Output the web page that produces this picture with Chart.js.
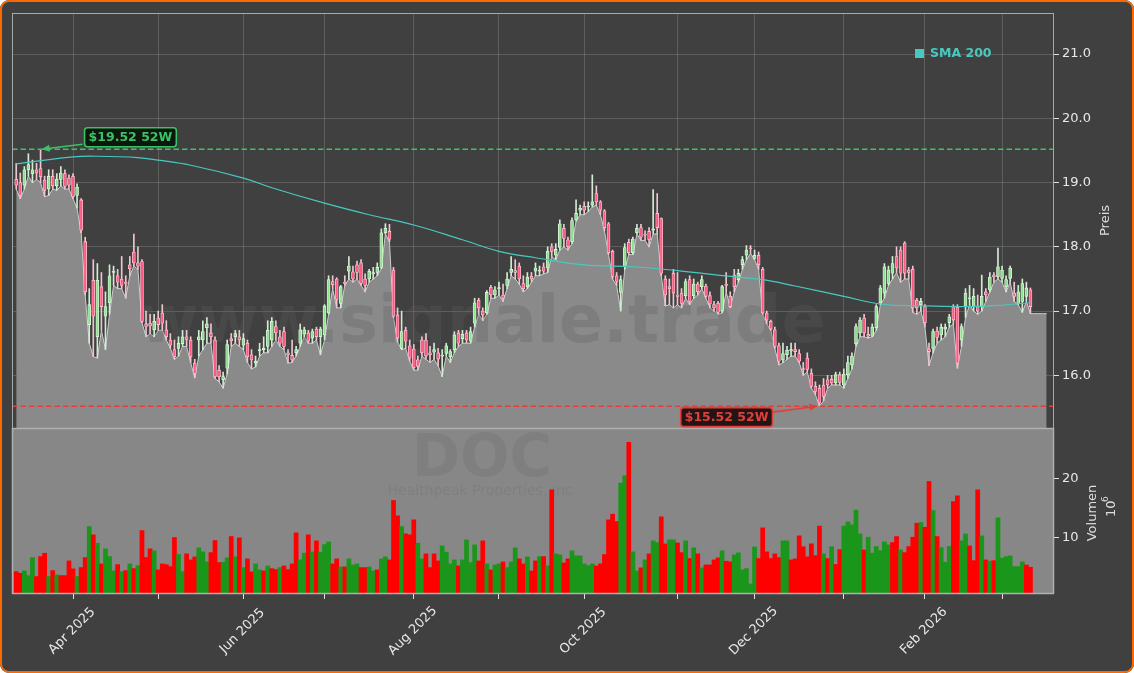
<!DOCTYPE html>
<html>
<head>
<meta charset="utf-8">
<script src="https://cdn.jsdelivr.net/npm/chart.js@4.4.1/dist/chart.umd.min.js"></script>
<style>
  html, body { margin:0; padding:0; background:#ffffff; }
  #wrap { position:relative; width:1134px; height:673px; background:#404040; border-radius:9px; overflow:hidden; }
  #frame { position:absolute; left:0; top:0; width:1134px; height:673px; box-sizing:border-box; border:2px solid #ff6a00; border-radius:9px; pointer-events:none; }
  canvas { position:absolute; left:0; top:0; }
</style>
</head>
<body>
<div id="wrap"><canvas id="chart" width="1134" height="673"></canvas><div id="frame"></div></div>
<script>
// daily candles, trading day index 0 = 12 Mar 2025
var open = [19.05,19.0,18.96,19.2,19.14,19.2,19.22,19.04,18.9,19.1,
  18.95,19.05,19.14,19.07,19.1,18.8,18.73,18.08,16.79,17.48,
  16.6,17.38,16.92,17.13,17.6,17.55,17.5,17.45,17.72,17.92,
  17.75,17.77,16.8,16.81,16.71,16.89,16.97,16.71,16.55,16.4,
  16.42,16.49,16.6,16.55,16.19,16.55,16.55,16.74,16.66,16.55,
  16.08,15.93,16.11,16.57,16.6,16.6,16.47,16.5,16.32,16.19,
  16.38,16.4,16.45,16.55,16.76,16.6,16.68,16.35,16.31,16.35,
  16.5,16.64,16.66,16.58,16.72,16.6,16.63,16.97,17.46,17.5,
  17.12,17.45,17.62,17.61,17.72,17.75,17.5,17.5,17.58,17.6,
  17.68,18.22,18.24,17.64,16.94,16.42,16.7,16.46,16.41,16.24,
  16.55,16.55,16.35,16.36,16.35,16.3,16.34,16.29,16.4,16.66,
  16.57,16.66,16.53,16.81,17.17,17.0,16.97,17.37,17.25,17.35,
  17.25,17.4,17.6,17.63,17.7,17.43,17.38,17.54,17.62,17.62,
  17.69,17.67,18.0,17.87,17.99,18.29,18.11,18.08,18.42,18.57,
  18.63,18.62,18.65,18.83,18.70,18.56,18.36,17.93,17.55,17.29,
  17.69,18.07,17.91,18.22,18.30,18.19,18.24,18.26,18.52,18.44,
  17.5,17.38,17.59,17.25,17.28,17.24,17.49,17.24,17.42,17.38,
  17.39,17.24,17.10,17.12,17.0,17.41,17.23,17.56,17.49,17.72,
  17.87,17.98,17.82,17.87,17.65,16.97,16.84,16.71,16.46,16.24,
  16.32,16.38,16.40,16.34,16.1,16.27,16.03,15.83,15.80,15.85,
  15.93,15.94,15.88,16.01,15.85,16.01,16.16,16.49,16.66,16.89,
  16.64,16.61,16.74,17.13,17.28,17.43,17.59,17.85,17.95,18.06,
  17.64,17.65,17.17,17.10,17.07,16.41,16.42,16.69,16.63,16.72,
  16.82,17.07,17.06,16.55,17.07,17.19,17.07,17.07,17.07,17.30,
  17.33,17.56,17.53,17.51,17.38,17.51,17.28,17.12,17.15,17.23,
  17.33];
var high = [19.3,19.15,19.25,19.45,19.35,19.3,19.52,19.1,19.2,19.2,
  19.14,19.25,19.2,19.12,19.14,18.98,18.75,18.15,17.35,17.8,
  17.74,17.6,17.3,17.72,17.7,17.65,17.85,17.55,17.85,18.2,
  18.0,17.8,17.0,16.95,16.95,17.0,17.1,16.85,16.65,16.55,
  16.6,16.7,16.7,16.6,16.25,16.7,16.85,16.9,16.8,16.6,
  16.15,16.05,16.55,16.65,16.7,16.7,16.65,16.55,16.4,16.3,
  16.5,16.6,16.85,16.9,16.85,16.7,16.75,16.4,16.55,16.45,
  16.8,16.75,16.7,16.72,16.75,16.75,17.1,17.55,17.55,17.52,
  17.4,17.55,17.85,17.7,17.78,17.8,17.58,17.65,17.68,17.75,
  18.28,18.36,18.35,17.68,17.05,17.0,16.75,16.55,16.48,16.3,
  16.6,16.65,16.45,16.5,16.42,16.4,16.5,16.4,16.68,16.7,
  16.7,16.7,16.75,17.2,17.2,17.05,17.32,17.4,17.38,17.45,
  17.42,17.6,17.85,17.8,17.75,17.55,17.6,17.6,17.75,17.7,
  17.75,18.0,18.05,18.05,18.42,18.35,18.15,18.45,18.73,18.65,
  18.7,18.7,19.12,18.95,18.72,18.58,18.38,17.95,17.6,17.55,
  18.05,18.12,18.15,18.35,18.35,18.25,18.3,18.89,18.83,18.45,
  17.55,17.5,17.65,17.6,17.35,17.5,17.55,17.5,17.45,17.55,
  17.42,17.3,17.15,17.15,17.4,17.6,17.3,17.65,17.65,17.85,
  18.02,18.02,17.95,17.92,17.68,17.0,16.86,16.75,16.5,16.5,
  16.45,16.5,16.5,16.4,16.2,16.35,16.1,15.9,15.85,15.95,
  16.0,16.0,16.05,16.05,16.1,16.3,16.35,16.8,16.9,16.95,
  16.75,16.8,17.1,17.4,17.74,17.7,17.85,18.0,18.0,18.08,
  17.68,17.7,17.2,17.2,17.1,16.5,16.72,16.75,16.8,16.8,
  16.95,17.1,17.1,16.8,17.35,17.4,17.35,17.25,17.56,17.35,
  17.6,17.6,17.98,17.7,17.55,17.7,17.45,17.4,17.5,17.45,
  17.36];
var low = [18.9,18.75,18.9,19.1,19.0,19.05,19.0,18.78,18.8,18.9,
  18.88,18.95,18.9,18.9,18.75,18.6,18.22,17.25,16.5,16.29,
  16.27,16.7,16.4,16.95,17.4,17.35,17.35,17.2,17.55,17.7,
  17.65,16.82,16.6,16.65,16.6,16.7,16.7,16.55,16.42,16.25,
  16.3,16.45,16.45,16.2,15.96,16.3,16.4,16.5,16.5,15.95,
  15.9,15.8,16.02,16.45,16.5,16.45,16.4,16.2,16.1,16.13,
  16.3,16.35,16.35,16.45,16.55,16.45,16.4,16.19,16.2,16.3,
  16.45,16.6,16.5,16.5,16.55,16.32,16.55,16.95,17.35,17.05,
  17.05,17.4,17.5,17.45,17.5,17.4,17.3,17.45,17.5,17.55,
  17.66,18.2,18.08,16.9,16.52,16.4,16.42,16.22,16.08,16.08,
  16.3,16.25,16.2,16.25,16.15,15.98,16.3,16.2,16.35,16.45,
  16.5,16.5,16.5,16.75,16.95,16.85,16.95,17.2,17.2,17.25,
  17.15,17.35,17.55,17.5,17.42,17.3,17.35,17.45,17.55,17.55,
  17.58,17.6,17.85,17.8,17.95,18.0,17.95,18.05,18.4,18.5,
  18.5,18.55,18.62,18.65,18.5,18.25,17.88,17.5,17.4,17.0,
  17.65,17.88,17.88,18.2,18.1,18.1,18.0,18.2,18.2,17.55,
  17.08,17.1,17.05,17.1,17.05,17.2,17.1,17.2,17.25,17.35,
  17.2,17.05,17.0,16.95,16.97,17.3,17.05,17.3,17.45,17.65,
  17.8,17.9,17.8,17.65,16.95,16.8,16.7,16.42,16.16,16.2,
  16.25,16.3,16.3,16.2,16.0,16.05,15.8,15.7,15.52,15.6,
  15.8,15.85,15.85,15.85,15.8,15.95,16.1,16.45,16.6,16.6,
  16.58,16.6,16.7,17.1,17.2,17.4,17.5,17.6,17.45,17.5,
  17.5,16.98,16.95,17.0,16.75,16.15,16.35,16.5,16.55,16.6,
  16.75,16.8,16.11,16.45,16.9,17.1,17.0,16.95,17.0,17.15,
  17.3,17.45,17.5,17.45,17.3,17.45,17.15,17.1,16.98,17.15,
  16.96];
var close = [18.96,18.8,19.2,19.28,19.2,19.15,19.09,18.88,19.1,18.95,
  19.05,19.15,18.94,18.96,18.78,18.93,18.26,17.3,17.1,16.92,
  17.48,17.07,17.07,17.55,17.62,17.45,17.4,17.43,17.66,17.75,
  17.7,16.84,16.76,16.77,16.84,16.79,16.81,16.6,16.47,16.29,
  16.5,16.6,16.56,16.29,16.03,16.6,16.68,16.8,16.6,15.98,
  15.98,15.98,16.48,16.54,16.65,16.55,16.57,16.29,16.24,16.22,
  16.4,16.42,16.7,16.84,16.66,16.5,16.45,16.32,16.24,16.4,
  16.71,16.71,16.53,16.68,16.6,16.72,17.08,17.49,17.41,17.18,
  17.38,17.43,17.7,17.5,17.6,17.43,17.4,17.62,17.6,17.68,
  18.22,18.29,18.12,16.92,16.58,16.68,16.53,16.27,16.12,16.14,
  16.35,16.3,16.32,16.4,16.25,16.3,16.46,16.37,16.63,16.5,
  16.64,16.55,16.68,17.13,17.05,16.94,17.29,17.25,17.33,17.36,
  17.2,17.5,17.65,17.6,17.5,17.35,17.53,17.5,17.67,17.62,
  17.62,17.93,17.93,17.96,18.36,18.13,18.0,18.41,18.52,18.6,
  18.57,18.63,18.7,18.70,18.57,18.30,17.91,17.54,17.46,17.49,
  17.99,17.91,18.12,18.29,18.15,18.18,18.11,18.28,18.3,17.59,
  17.25,17.35,17.28,17.23,17.12,17.46,17.15,17.42,17.30,17.49,
  17.23,17.11,17.05,16.98,17.38,17.4,17.07,17.38,17.59,17.8,
  17.95,17.97,17.87,17.72,16.97,16.86,16.72,16.45,16.22,16.34,
  16.39,16.40,16.37,16.22,16.09,16.09,15.83,15.75,15.57,15.67,
  15.85,15.88,16.01,15.89,16.02,16.20,16.30,16.76,16.86,16.66,
  16.61,16.75,17.07,17.36,17.69,17.64,17.74,17.67,17.59,17.59,
  17.60,17.05,17.05,17.15,16.82,16.37,16.68,16.59,16.75,16.75,
  16.91,16.86,16.19,16.76,17.28,17.19,17.23,17.0,17.23,17.25,
  17.53,17.53,17.69,17.64,17.49,17.67,17.23,17.30,17.43,17.36,
  17.07];

// volume in millions, and its colour (1 = green, 0 = red) as shown
var volume = [4.29,4.01,4.41,3.62,6.67,3.45,6.84,7.40,3.45,4.46,
  3.73,3.62,3.62,6.10,4.75,3.45,4.97,6.67,11.92,10.51,
  9.10,5.59,8.14,6.84,4.41,5.48,4.29,4.46,5.59,4.80,
  5.31,11.24,6.67,8.14,7.80,4.58,5.59,5.48,5.14,10.06,
  7.18,4.29,7.29,6.27,6.78,8.31,7.63,5.93,7.51,9.55,
  5.82,5.88,6.61,10.23,6.78,10.0,4.97,6.44,4.24,5.59,
  4.58,4.41,5.25,4.80,4.63,4.97,5.25,4.63,5.59,10.85,
  6.27,7.40,10.51,7.63,9.49,7.57,8.87,9.32,5.59,6.44,
  5.08,5.08,6.44,5.42,5.59,4.97,4.97,5.08,4.41,4.58,
  6.44,6.78,6.27,16.33,13.73,11.92,10.68,10.51,13.05,9.10,
  6.44,7.29,4.97,7.29,6.10,8.64,7.57,5.59,6.27,5.25,
  6.27,9.66,5.82,8.81,6.10,9.49,5.59,4.58,5.42,5.59,
  5.93,4.97,5.93,8.31,6.44,5.59,6.78,4.41,6.10,6.84,
  6.84,5.25,18.14,7.29,7.12,5.76,6.44,7.80,6.95,6.95,
  5.59,5.31,5.59,5.25,5.59,7.18,13.05,14.01,12.77,19.27,
  20.51,26.16,7.63,4.41,4.92,6.27,7.29,9.49,9.21,13.56,
  8.98,9.66,9.66,9.15,7.51,9.49,6.50,8.31,7.29,4.92,
  5.42,5.42,6.27,6.61,7.80,6.05,5.93,7.12,7.46,4.58,
  4.80,2.20,8.47,6.50,11.69,7.63,6.50,7.29,6.67,9.49,
  9.49,6.27,6.44,10.34,8.5,6.8,9.0,7.0,12.0,7.3,
  6.5,8.5,5.5,8.0,12.0,12.7,12.2,14.7,10.67,7.96,
  10.11,7.40,8.53,7.85,9.32,8.81,9.21,10.22,7.96,7.51,
  8.53,10.11,12.48,12.60,11.80,19.55,14.63,10.22,8.36,5.87,
  8.53,16.15,17.12,9.49,10.67,8.64,6.15,18.13,10.33,6.27,
  6.04,6.15,13.39,6.55,6.83,6.95,5.14,5.14,5.93,5.42,
  5.03];
var volUp = [0,0,1,1,1,0,0,0,1,0, 1,0,0,0,0,1,0,0,1,0,
  1,0,1,1,1,0,1,0,1,0, 1,0,0,0,1,0,0,0,0,0,
  1,1,0,0,0,1,1,1,0,0, 0,1,1,0,1,0,1,0,0,1,
  1,0,1,0,0,1,0,0,0,0, 1,1,0,1,0,1,1,1,0,0,
  1,0,1,1,1,0,0,1,1,0, 1,1,0,0,0,1,0,0,0,1,
  1,0,0,0,0,1,1,1,1,0, 1,1,1,1,0,0,1,0,1,1,
  0,1,1,1,0,0,1,0,0,1, 0,1,0,1,1,0,0,1,1,1,
  1,1,1,0,0,0,0,0,0,1, 1,0,1,1,0,1,0,1,1,0,
  0,1,1,0,0,1,0,1,0,1, 0,0,0,0,1,0,0,1,1,1,
  1,1,1,0,0,0,0,0,0,1, 1,0,0,0,0,0,0,0,0,1,
  0,1,0,0,1,1,1,1,1,0, 1,1,1,1,1,1,0,0,1,0,
  0,0,0,1,0,0,1,0,1,1, 1,0,0,1,1,0,0,0,1,0,
  1,0,1,1,1,1,1,1,1,0, 0];

// SMA 200 read at a few trading days
var smaIdx = [0,14,20,30,35,43,56,63,76,87,98,110,119,128,140,152,163,176,184,192,204,213,224,232,240,250];
var smaVal = [19.29,19.40,19.41,19.39,19.35,19.27,19.07,18.92,18.68,18.50,18.34,18.11,17.93,17.83,17.72,17.69,17.63,17.54,17.49,17.39,17.23,17.11,17.08,17.07,17.08,17.13];

// month ticks (first trading day of each month)
var monthIdx = [14,35,56,76,98,119,140,163,182,204,224,243];
var monthLabels = ['Apr 2025','','Jun 2025','','Aug 2025','','Oct 2025','','Dec 2025','','Feb 2026',''];
var priceTicks = [16,17,18,19,20,21];
var volTicks = [10,20];
var padDays = 4;

var FONT = 'DejaVu Sans';
var upBody = '#8fe08f', dnBody = '#ff5a84';
var upEdge = '#e2f7e2', dnEdge = '#ffc4d2';
var upWick = '#d3ead3', dnWick = '#ecc6cf';
var smaColor = '#48c9c0';
var hiColor = '#3cc266', loColor = '#e0403c';

var hi52 = Math.max.apply(null, high), lo52 = Math.min.apply(null, low);
var hiIdx = high.indexOf(hi52), loIdx = low.indexOf(lo52);

var area = low.map(function(v, i){ return {x:i, y:v}; });
for (var p = 1; p <= padDays; p++) area.push({x: low.length - 1 + p, y: low[low.length - 1]});

var wicks = [], bodies = [], bodyCol = [], bodyEdge = [], wickCol = [], vols = [], volCol = [];
for (var i = 0; i < close.length; i++) {
    var up = close[i] >= open[i];
    wicks.push({x:i, y:[low[i], high[i]]});
    bodies.push({x:i, y:[open[i], close[i]]});
    bodyCol.push(up ? upBody : dnBody);
    bodyEdge.push(up ? upEdge : dnEdge);
    wickCol.push(up ? upWick : dnWick);
    vols.push({x:i, y:volume[i]});
    volCol.push(volUp[i] ? '#1a961a' : '#ff0000');
}
var sma = smaIdx.map(function(v, k){ return {x:v, y:smaVal[k]}; });

function labelBox(ctx, text, x, y, color, bg) {
    ctx.font = 'bold 12.5px ' + FONT;
    var w = ctx.measureText(text).width + 8, h = 19;
    ctx.beginPath();
    ctx.roundRect(x, y - h/2, w, h, 3);
    ctx.fillStyle = bg; ctx.fill();
    ctx.lineWidth = 1.6; ctx.strokeStyle = color; ctx.stroke();
    ctx.fillStyle = color; ctx.textAlign = 'left'; ctx.textBaseline = 'middle';
    ctx.fillText(text, x + 4, y + 1);
    return w;
}
function arrow(ctx, x1, y1, x2, y2, color) {
    var a = Math.atan2(y2 - y1, x2 - x1);
    ctx.strokeStyle = color; ctx.fillStyle = color; ctx.lineWidth = 1.6;
    ctx.beginPath(); ctx.moveTo(x1, y1); ctx.lineTo(x2 - 6*Math.cos(a), y2 - 6*Math.sin(a)); ctx.stroke();
    ctx.beginPath(); ctx.moveTo(x2, y2);
    ctx.lineTo(x2 - 8*Math.cos(a) + 3.5*Math.sin(a), y2 - 8*Math.sin(a) - 3.5*Math.cos(a));
    ctx.lineTo(x2 - 8*Math.cos(a) - 3.5*Math.sin(a), y2 - 8*Math.sin(a) + 3.5*Math.cos(a));
    ctx.closePath(); ctx.fill();
}

var panels = {
    id: 'panels',
    beforeDatasetsDraw: function(chart) {
        var ctx = chart.ctx, ca = chart.chartArea, yv = chart.scales.yv;
        ctx.save();
        ctx.fillStyle = '#878787';
        ctx.fillRect(ca.left, yv.top, ca.right - ca.left, yv.bottom - yv.top);
        ctx.restore();
    },
    afterDatasetDraw: function(chart, args) {
        if (args.index !== 0) return;
        // watermark over the area, under the candles
        var ctx = chart.ctx, ca = chart.chartArea, yp = chart.scales.yp;
        ctx.save();
        ctx.beginPath(); ctx.rect(ca.left, ca.top, ca.right - ca.left, yp.bottom - ca.top); ctx.clip();
        ctx.fillStyle = 'rgba(92,92,92,0.28)';
        ctx.font = 'bold 65px ' + FONT;
        ctx.textAlign = 'center'; ctx.textBaseline = 'middle';
        ctx.fillText('www.signale.trade', 482, 325);
        ctx.restore();
    },
    afterDraw: function(chart) {
        var ctx = chart.ctx, ca = chart.chartArea;
        var x = chart.scales.x, yp = chart.scales.yp, yv = chart.scales.yv;
        ctx.save();
        // company watermark in volume panel
        ctx.fillStyle = 'rgba(70,70,70,0.12)';
        ctx.textAlign = 'center'; ctx.textBaseline = 'middle';
        ctx.font = 'bold 58px ' + FONT;
        ctx.fillText('DOC', 482, 461);
        ctx.font = '14px ' + FONT;
        ctx.fillText('Healthpeak Properties, Inc', 480, 491);

        // 52 week lines
        ctx.lineWidth = 1.5; ctx.setLineDash([5.5, 3]);
        [[hi52, hiColor], [lo52, loColor]].forEach(function(l){
            var py = yp.getPixelForValue(l[0]);
            ctx.strokeStyle = l[1];
            ctx.beginPath(); ctx.moveTo(ca.left, py); ctx.lineTo(ca.right, py); ctx.stroke();
        });
        ctx.setLineDash([]);

        // panel frames
        ctx.strokeStyle = '#a8a8a8'; ctx.lineWidth = 1;
        ctx.strokeRect(ca.left + 0.5, ca.top + 0.5, ca.right - ca.left - 1, yp.bottom - ca.top);
        ctx.strokeStyle = '#b0b0b0'; ctx.lineWidth = 1.5;
        ctx.strokeRect(ca.left + 0.5, yv.top + 0.5, ca.right - ca.left - 1, yv.bottom - yv.top - 1);

        // 52W labels with arrows
        var hx = x.getPixelForValue(hiIdx), hy = yp.getPixelForValue(hi52);
        labelBox(ctx, '$' + hi52.toFixed(2) + ' 52W', hx + 44, hy - 12, hiColor, 'rgba(8,20,10,0.92)');
        arrow(ctx, hx + 42, hy - 5, hx + 1, hy, hiColor);
        var lx = x.getPixelForValue(loIdx), ly = yp.getPixelForValue(lo52);
        ctx.font = 'bold 12.5px ' + FONT;
        var lw = ctx.measureText('$' + lo52.toFixed(2) + ' 52W').width + 8;
        labelBox(ctx, '$' + lo52.toFixed(2) + ' 52W', lx - 47 - lw, ly + 11, loColor, 'rgba(28,10,10,0.92)');
        arrow(ctx, lx - 47, ly + 6, lx - 2, ly, loColor);

        // legend
        ctx.fillStyle = smaColor;
        ctx.fillRect(915, 49, 9, 9);
        ctx.font = 'bold 12.5px ' + FONT; ctx.textAlign = 'left'; ctx.textBaseline = 'middle';
        ctx.fillText('SMA 200', 930, 54);

        // x labels, rotated and centred under the tick
        ctx.fillStyle = '#e8e8e8'; ctx.font = '13px ' + FONT; ctx.textAlign = 'center';
        monthIdx.forEach(function(m, k){
            if (!monthLabels[k]) return;
            ctx.save();
            ctx.translate(x.getPixelForValue(m) - 1, 631);
            ctx.rotate(-Math.PI / 4);
            ctx.fillText(monthLabels[k], 0, 0);
            ctx.restore();
        });

        // axis titles
        ctx.fillStyle = '#dedede';
        function vtext(t, px, py, f) {
            ctx.save(); ctx.translate(px, py); ctx.rotate(-Math.PI / 2);
            ctx.font = f; ctx.textAlign = 'center'; ctx.fillText(t, 0, 0); ctx.restore();
        }
        vtext('Preis', 1106, (ca.top + yp.bottom) / 2, '13px ' + FONT);
        vtext('Volumen', 1093, (yv.top + yv.bottom) / 2 + 2, '13px ' + FONT);
        ctx.save(); ctx.translate(1112, 507); ctx.rotate(-Math.PI / 2);
        ctx.textAlign = 'left';
        ctx.font = '13px ' + FONT; ctx.fillText('10', -10, 0);
        ctx.font = '9px ' + FONT; ctx.fillText('6', 5, -6);
        ctx.restore();
        ctx.restore();
    }
};

var tickFont = {family: FONT, size: 13};
var chart = new Chart(document.getElementById('chart'), {
    type: 'bar',
    data: {
        datasets: [
            {type:'line', data: area, yAxisID:'yp', fill:'start', backgroundColor:'#8a8a8a',
             borderColor:'#cdcdcd', borderWidth:1, pointRadius:0, tension:0, order:10},
            {data: vols, yAxisID:'yv', backgroundColor: volCol, barPercentage:1, categoryPercentage:1,
             grouped:false, borderWidth:0, order:6},
            {data: wicks, yAxisID:'yp', backgroundColor: wickCol, barThickness:1, grouped:false, order:5},
            {data: bodies, yAxisID:'yp', backgroundColor: bodyCol, borderColor: bodyEdge, borderWidth:0.8,
             borderSkipped:false, barThickness:3, minBarLength:1, grouped:false, order:4},
            {type:'line', data: sma, yAxisID:'yp', borderColor: smaColor, borderWidth:1.2,
             pointRadius:0, tension:0.4, fill:false, order:1}
        ]
    },
    options: {
        responsive: false,
        animation: false,
        layout: { padding: {left:12, top:13, right:0, bottom:0} },
        plugins: { legend: {display:false}, tooltip: {enabled:false} },
        scales: {
            x: {
                type:'linear', min:-1.04, max:255.81, offset:false,
                afterBuildTicks: function(s){ s.ticks = monthIdx.map(function(v){ return {value:v}; }); },
                ticks: { display:false },
                grid: { offset:false, color:'rgba(255,255,255,0.16)', tickColor:'#e0e0e0', tickLength:5 },
                border: { display:false },
                afterFit: function(s){ s.height = 79; }
            },
            yp: {
                type:'linear', position:'right', stack:'pv', stackWeight:415, min:15.18, max:21.64,
                afterBuildTicks: function(s){ s.ticks = priceTicks.map(function(v){ return {value:v}; }); },
                ticks: { color:'#e8e8e8', font: tickFont, padding:3, callback: function(v){ return v.toFixed(1); } },
                grid: { color:'rgba(255,255,255,0.16)', tickColor:'#e0e0e0', tickLength:5 },
                border: { display:false },
                afterFit: function(s){ s.width = 80; }
            },
            yv: {
                type:'linear', position:'right', stack:'pv', stackWeight:166, min:0.5, max:28.6,
                afterBuildTicks: function(s){ s.ticks = volTicks.map(function(v){ return {value:v}; }); },
                ticks: { color:'#e8e8e8', font: tickFont, padding:3, callback: function(v){ return String(v); } },
                grid: { drawOnChartArea:false, tickColor:'#e0e0e0', tickLength:5 },
                border: { display:false },
                afterFit: function(s){ s.width = 80; }
            }
        }
    },
    plugins: [panels]
});
</script>
</body>
</html>
